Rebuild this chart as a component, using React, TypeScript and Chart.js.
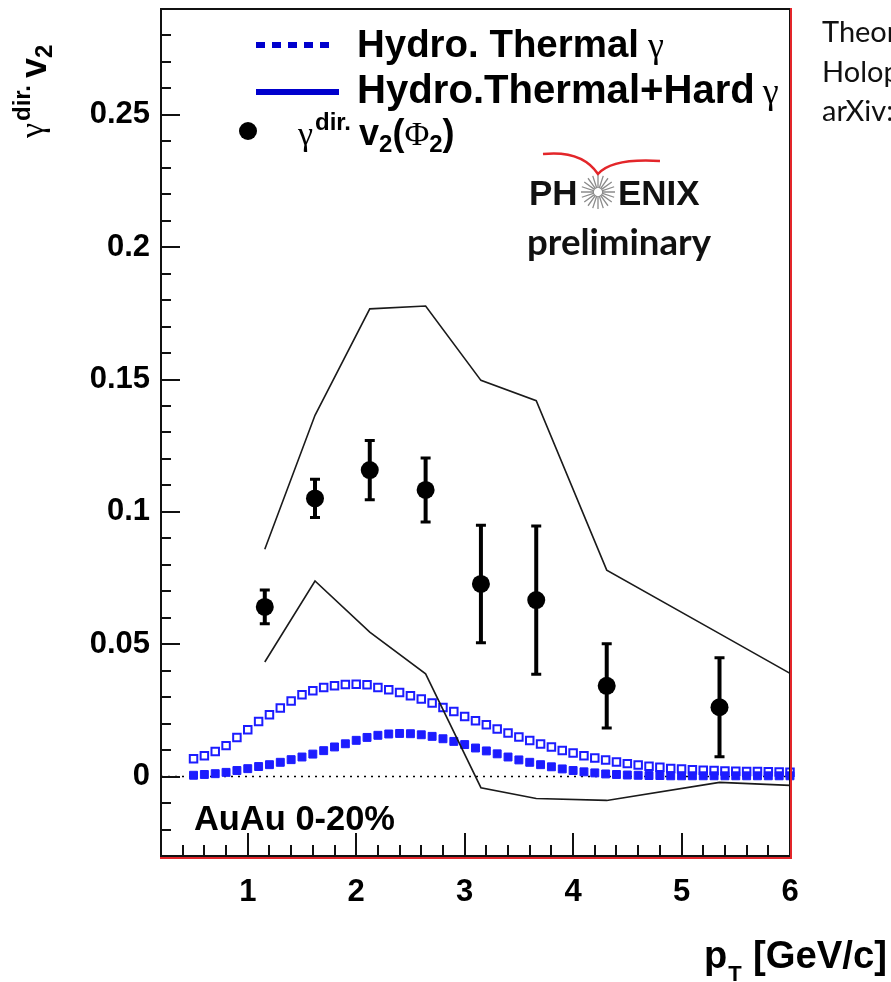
import { useEffect, useRef } from 'react';
import { Chart, registerables } from 'chart.js';

Chart.register(...registerables);

// ---- data ----
const dataPt = [1.157, 1.62, 2.125, 2.64, 3.15, 3.66, 4.31, 5.35];
const dataV2 = [0.0641, 0.1051, 0.1158, 0.1083, 0.0728, 0.0667, 0.0343, 0.0262];
const dataErr = [0.0064, 0.0072, 0.0112, 0.0121, 0.0222, 0.028, 0.0159, 0.0187];

const bandPt = [1.157, 1.62, 2.125, 2.64, 3.15, 3.66, 4.31, 5.35, 6.0];
const bandUpper = [0.0859, 0.1365, 0.1767, 0.1778, 0.1497, 0.142, 0.078, 0.054, 0.039];
const bandLower = [0.0433, 0.0739, 0.0546, 0.0388, -0.0042, -0.0083, -0.009, -0.0022, -0.0033];

const hydroPt = [
  0.5, 0.6, 0.7, 0.8, 0.9, 1.0, 1.1, 1.2, 1.3, 1.4, 1.5, 1.6, 1.7, 1.8, 1.9, 2.0,
  2.1, 2.2, 2.3, 2.4, 2.5, 2.6, 2.7, 2.8, 2.9, 3.0, 3.1, 3.2, 3.3, 3.4, 3.5, 3.6,
  3.7, 3.8, 3.9, 4.0, 4.1, 4.2, 4.3, 4.4, 4.5, 4.6, 4.7, 4.8, 4.9, 5.0, 5.1, 5.2,
  5.3, 5.4, 5.5, 5.6, 5.7, 5.8, 5.9, 6.0,
];
const hydroOpen = [
  0.0067, 0.0079, 0.0095, 0.0117, 0.0148, 0.0177, 0.0208, 0.0234, 0.0259, 0.0286, 0.0309, 0.0324, 0.0337, 0.0343, 0.0348, 0.0349,
  0.0347, 0.0337, 0.0328, 0.0318, 0.0305, 0.0293, 0.0278, 0.0261, 0.0246, 0.0227, 0.0211, 0.0196, 0.018, 0.0165, 0.015, 0.0136,
  0.0123, 0.0112, 0.0099, 0.0089, 0.0079, 0.007, 0.0063, 0.0055, 0.0049, 0.0044, 0.0039, 0.0035, 0.0031, 0.0029, 0.0026, 0.0024,
  0.0023, 0.0021, 0.002, 0.0019, 0.0019, 0.0018, 0.0017, 0.0016,
];
const hydroFilled = [
  0.0005, 0.0008, 0.0011, 0.0016, 0.0023, 0.003, 0.0038, 0.0045, 0.0054, 0.0064, 0.0074, 0.0085, 0.0098, 0.0112, 0.0124, 0.0137,
  0.0148, 0.0156, 0.0161, 0.0163, 0.0162, 0.0158, 0.0152, 0.0143, 0.0133, 0.0121, 0.0108, 0.0097, 0.0086, 0.0074, 0.0063, 0.0054,
  0.0045, 0.0037, 0.0029, 0.0023, 0.0018, 0.0014, 0.001, 0.0008, 0.0006, 0.0005, 0.0004, 0.0004, 0.0003, 0.0003, 0.0003, 0.0003,
  0.0003, 0.0003, 0.0003, 0.0003, 0.0003, 0.0003, 0.0003, 0.0003,
];

const xMajorTicks = [1, 2, 3, 4, 5, 6];
const yMajorTicks = [0, 0.05, 0.1, 0.15, 0.2, 0.25];

const legendLabels = ['Hydro. Thermal', 'Hydro.Thermal+Hard'];
const noteLines = ['Theory:', 'Holopainen et al.', 'arXiv:'];
const systemLabel = 'AuAu 0-20%';

const SANS = '"Liberation Sans", Arial, sans-serif';
const SERIF = '"Liberation Serif", "DejaVu Serif", serif';
const CAL = 'Lato, "Open Sans", sans-serif';
const BLUE = 'rgb(28,28,255)';
const LEG_BLUE = 'rgb(0,0,205)';

function txt(ctx: CanvasRenderingContext2D, s: string, x: number, y: number, font: string, color = '#000') {
  ctx.font = font;
  ctx.fillStyle = color;
  ctx.textAlign = 'left';
  ctx.textBaseline = 'alphabetic';
  ctx.fillText(s, x, y);
  return ctx.measureText(s).width;
}

function fitFont(ctx: CanvasRenderingContext2D, s: string, weight: string, family: string, width: number) {
  ctx.font = `${weight} 40px ${family}`;
  const w = ctx.measureText(s).width;
  return `${weight} ${(40 * width) / w}px ${family}`;
}

const refPlugin = {
  id: 'refPlugin',
  beforeDatasetsDraw(chart: any) {
    const { ctx, chartArea: a, scales } = chart;
    const y0 = scales.y.getPixelForValue(0);
    ctx.save();
    ctx.strokeStyle = '#000';
    ctx.lineWidth = 1.5;
    ctx.setLineDash([2, 5]);
    ctx.beginPath();
    ctx.moveTo(a.left, y0);
    ctx.lineTo(a.right, y0);
    ctx.stroke();
    ctx.restore();
  },
  afterDatasetsDraw(chart: any) {
    const { ctx, scales } = chart;
    const { x, y } = scales;
    ctx.save();
    ctx.strokeStyle = '#000';
    dataPt.forEach((pt, i) => {
      const px = x.getPixelForValue(pt);
      const top = y.getPixelForValue(dataV2[i] + dataErr[i]);
      const bot = y.getPixelForValue(dataV2[i] - dataErr[i]);
      ctx.lineWidth = 4;
      ctx.beginPath();
      ctx.moveTo(px, top);
      ctx.lineTo(px, bot);
      ctx.stroke();
      ctx.lineWidth = 3;
      ctx.beginPath();
      ctx.moveTo(px - 5, top);
      ctx.lineTo(px + 5, top);
      ctx.moveTo(px - 5, bot);
      ctx.lineTo(px + 5, bot);
      ctx.stroke();
    });
    ctx.restore();
  },
  afterDraw(chart: any) {
    const { ctx, chartArea: a, scales } = chart;
    const { x, y } = scales;
    ctx.save();

    // minor / major ticks inside the frame
    ctx.strokeStyle = '#111';
    ctx.lineWidth = 2;
    ctx.beginPath();
    for (let k = -2; k <= 28; k++) {
      const v = k / 100;
      const py = Math.round(y.getPixelForValue(v));
      const major = k % 5 === 0;
      ctx.moveTo(a.left, py);
      ctx.lineTo(a.left + (major ? 19 : 10), py);
    }
    for (let k = 2; k <= 29; k++) {
      const v = k / 5;
      const px = Math.round(x.getPixelForValue(v));
      const major = k % 5 === 0;
      ctx.moveTo(px, a.bottom);
      ctx.lineTo(px, a.bottom - (major ? 23 : 11));
    }
    ctx.stroke();

    // frame
    ctx.lineWidth = 2;
    ctx.strokeStyle = '#111';
    ctx.strokeRect(a.left, a.top, a.right - a.left, a.bottom - a.top);
    ctx.strokeStyle = '#e3262a';
    ctx.beginPath();
    ctx.moveTo(a.right + 1, a.top - 1);
    ctx.lineTo(a.right + 1, a.bottom + 3);
    ctx.moveTo(a.left - 1, a.bottom + 2);
    ctx.lineTo(a.right + 2, a.bottom + 2);
    ctx.stroke();

    // legend
    ctx.lineWidth = 6;
    ctx.strokeStyle = LEG_BLUE;
    ctx.setLineDash([9, 7]);
    ctx.beginPath();
    ctx.moveTo(256, 45);
    ctx.lineTo(332, 45);
    ctx.stroke();
    ctx.setLineDash([]);
    ctx.beginPath();
    ctx.moveTo(256, 92);
    ctx.lineTo(339, 92);
    ctx.stroke();
    ctx.fillStyle = '#000';
    ctx.beginPath();
    ctx.arc(248, 131, 9, 0, Math.PI * 2);
    ctx.fill();

    let w = txt(ctx, legendLabels[0], 357, 57, fitFont(ctx, legendLabels[0], 'bold', SANS, 282));
    txt(ctx, 'γ', 357 + w + 9, 57, `36px ${SERIF}`);
    w = txt(ctx, legendLabels[1], 357, 103, fitFont(ctx, legendLabels[1], 'bold', SANS, 398));
    txt(ctx, 'γ', 357 + w + 8, 103, `36px ${SERIF}`);

    let cx = 298;
    const b3 = 145;
    cx += txt(ctx, 'γ', cx, b3, `34px ${SERIF}`) + 2;
    cx += txt(ctx, 'dir.', cx, b3 - 15, `bold 24px ${SANS}`) + 8;
    cx += txt(ctx, 'v', cx, b3, `bold 36px ${SANS}`);
    cx += txt(ctx, '2', cx, b3 + 7, `bold 24px ${SANS}`);
    cx += txt(ctx, '(', cx, b3, `bold 36px ${SANS}`);
    cx += txt(ctx, 'Φ', cx, b3, `34px ${SERIF}`);
    cx += txt(ctx, '2', cx, b3 + 7, `bold 24px ${SANS}`);
    txt(ctx, ')', cx, b3, `bold 36px ${SANS}`);

    // PHENIX logo
    ctx.strokeStyle = '#e3262a';
    ctx.lineWidth = 2.5;
    ctx.beginPath();
    ctx.moveTo(543, 154);
    ctx.quadraticCurveTo(582, 150, 598, 174);
    ctx.quadraticCurveTo(612, 158, 660, 161);
    ctx.stroke();
    txt(ctx, 'PH', 529, 205, `bold 35px ${SANS}`, '#111');
    txt(ctx, 'ENIX', 618, 205, `bold 35px ${SANS}`, '#111');
    ctx.strokeStyle = '#8c8c8c';
    ctx.lineWidth = 1.3;
    ctx.beginPath();
    for (let k = 0; k < 20; k++) {
      const ang = (k / 20) * Math.PI * 2;
      ctx.moveTo(598 + Math.cos(ang) * 4, 192 + Math.sin(ang) * 4);
      ctx.lineTo(598 + Math.cos(ang) * 17, 192 + Math.sin(ang) * 17);
    }
    ctx.stroke();
    txt(ctx, 'preliminary', 527, 255, fitFont(ctx, 'preliminary', 'bold', CAL, 184), '#111');

    // system label
    txt(ctx, systemLabel, 194, 830, fitFont(ctx, systemLabel, 'bold', SANS, 201));

    // axis titles
    w = txt(ctx, 'p', 704, 968, `bold 38px ${SANS}`);
    txt(ctx, 'T', 704 + w + 1, 981, `bold 22px ${SANS}`);
    txt(ctx, '[GeV/c]', 753, 968, fitFont(ctx, '[GeV/c]', 'bold', SANS, 134));

    ctx.save();
    ctx.translate(46, 138);
    ctx.rotate(-Math.PI / 2);
    let ty = 0;
    ty += txt(ctx, 'γ', ty, -3, `34px ${SERIF}`) + 2;
    ty += txt(ctx, 'dir.', ty, -16, `bold 24px ${SANS}`) + 7;
    ty += txt(ctx, 'v', ty, 0, `bold 36px ${SANS}`);
    txt(ctx, '2', ty, 6, `bold 24px ${SANS}`);
    ctx.restore();

    // side note (clipped by the page edge as in the reference)
    noteLines.forEach((s, i) => txt(ctx, s, 822, 42 + i * 39.5, `29px ${CAL}`, '#111'));

    ctx.restore();
  },
};

export default function App() {
  const ref = useRef<HTMLCanvasElement>(null);
  useEffect(() => {
    document.body.style.margin = '0';
    const tickFont = { family: SANS, weight: 'bold' as const, size: 31 };
    const chart = new Chart(ref.current!, {
      type: 'scatter',
      data: {
        datasets: [
          {
            label: 'γdir. v2(Φ2)',
            data: dataPt.map((x, i) => ({ x, y: dataV2[i] })),
            pointStyle: 'circle',
            pointRadius: 9,
            backgroundColor: '#000',
            borderColor: '#000',
            borderWidth: 0,
            showLine: false,
            order: 0,
          },
          {
            label: 'upper',
            data: bandPt.map((x, i) => ({ x, y: bandUpper[i] })),
            showLine: true,
            pointRadius: 0,
            borderColor: '#1a1a1a',
            borderWidth: 1.6,
            fill: false,
            order: 1,
          },
          {
            label: 'lower',
            data: bandPt.map((x, i) => ({ x, y: bandLower[i] })),
            showLine: true,
            pointRadius: 0,
            borderColor: '#1a1a1a',
            borderWidth: 1.6,
            fill: false,
            order: 1,
          },
          {
            label: 'hydro filled',
            data: hydroPt.map((x, i) => ({ x, y: hydroFilled[i] })),
            pointStyle: 'rect',
            pointRadius: 5.6,
            backgroundColor: BLUE,
            borderColor: BLUE,
            borderWidth: 1,
            showLine: false,
            clip: false,
            order: 2,
          },
          {
            label: 'hydro open',
            data: hydroPt.map((x, i) => ({ x, y: hydroOpen[i] })),
            pointStyle: 'rect',
            pointRadius: 5.3,
            backgroundColor: '#fff',
            borderColor: BLUE,
            borderWidth: 2,
            showLine: false,
            clip: false,
            order: 3,
          },
        ],
      },
      options: {
        responsive: false,
        animation: false,
        events: [],
        layout: { padding: { top: 8, right: 101, left: 0, bottom: 0 } },
        plugins: { legend: { display: false }, tooltip: { enabled: false } },
        scales: {
          x: {
            type: 'linear',
            min: 0.2,
            max: 6,
            afterBuildTicks: (s: any) => {
              s.ticks = xMajorTicks.map((v) => ({ value: v }));
            },
            afterFit: (s: any) => {
              s.height = 126;
              s.paddingLeft = 0;
              s.paddingRight = 0;
            },
            grid: { display: false, drawTicks: false },
            border: { display: false },
            ticks: {
              font: tickFont,
              color: '#000',
              padding: 18,
              maxRotation: 0,
              autoSkip: false,
              callback: (v: any) => String(v),
            },
          },
          y: {
            type: 'linear',
            min: -0.03,
            max: 0.29,
            afterBuildTicks: (s: any) => {
              s.ticks = yMajorTicks.map((v) => ({ value: v }));
            },
            afterFit: (s: any) => {
              s.width = 161;
              s.paddingTop = 0;
              s.paddingBottom = 0;
            },
            grid: { display: false, drawTicks: false },
            border: { display: false },
            ticks: {
              font: tickFont,
              color: '#000',
              padding: 11,
              autoSkip: false,
              callback: (v: any) => String(+Number(v).toFixed(2)),
            },
          },
        },
      },
      plugins: [refPlugin],
    });
    return () => chart.destroy();
  }, []);
  return (
    <div style={{ position: 'absolute', left: 0, top: 0, width: 891, height: 982, background: '#fff' }}>
      <canvas ref={ref} width={891} height={982} style={{ display: 'block', width: 891, height: 982 }} />
    </div>
  );
}
